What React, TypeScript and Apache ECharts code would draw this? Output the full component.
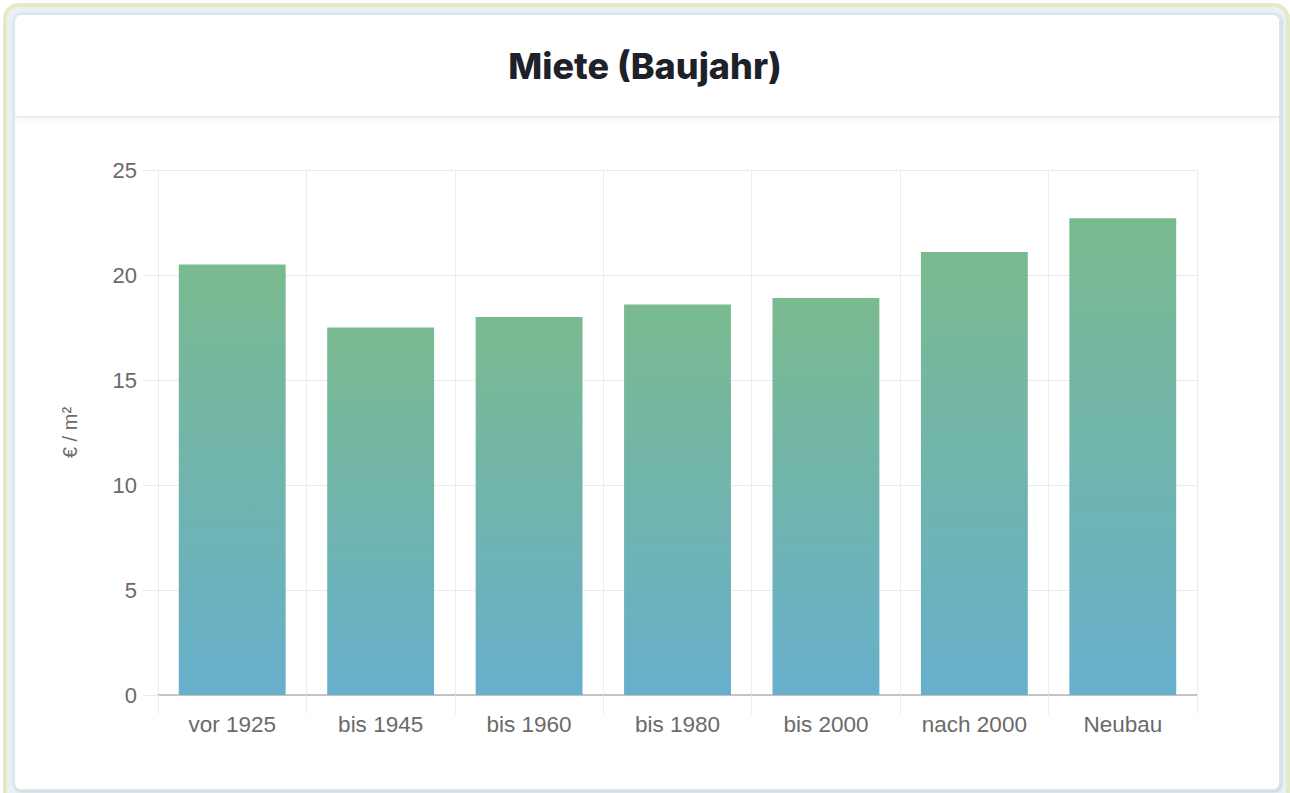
import React, { useEffect, useRef } from "react";
import * as echarts from "echarts";

const chartTitle = "Miete (Baujahr)";
const yAxisName = "€ / m²";
const categories = ["vor 1925", "bis 1945", "bis 1960", "bis 1980", "bis 2000", "nach 2000", "Neubau"];
const rentValues = [20.5, 17.5, 18.0, 18.6, 18.9, 21.1, 22.7];
const yMin = 0;
const yMax = 25;
const yStep = 5;

export default function App() {
  const ref = useRef<HTMLDivElement>(null);

  useEffect(() => {
    if (!ref.current) return;
    const chart = echarts.init(ref.current, null, { renderer: "svg" });
    const labelColor = "#6a6a6a";
    const gridColor = "#ebebeb";
    const n = categories.length;
    chart.setOption({
      animation: false,
      backgroundColor: "transparent",
      title: {
        text: chartTitle,
        left: "center",
        top: 43,
        textStyle: {
          fontFamily: "Inter, 'Open Sans', sans-serif",
          fontWeight: 800,
          fontSize: 36,
          color: "#1d222a",
        },
      },
      grid: { left: 158, right: 93, top: 170, bottom: 98, containLabel: false },
      xAxis: {
        type: "category",
        data: categories,
        boundaryGap: true,
        axisLine: { show: true, lineStyle: { color: "#b5b5b5", width: 1.5 } },
        axisTick: { show: true, length: 19, interval: 0, lineStyle: { color: gridColor } },
        splitLine: {
          show: true,
          interval: (i: number) => i < n,
          lineStyle: { color: gridColor },
        },
        axisLabel: {
          color: labelColor,
          fontSize: 22.5,
          fontFamily: "'Liberation Sans', Arial, sans-serif",
          margin: 18,
        },
      },
      yAxis: {
        type: "value",
        min: yMin,
        max: yMax,
        interval: yStep,
        name: yAxisName,
        nameLocation: "middle",
        nameGap: 78,
        nameTextStyle: {
          color: labelColor,
          fontSize: 20,
          fontFamily: "'Liberation Sans', Arial, sans-serif",
        },
        axisLine: { show: false },
        axisTick: { show: true, length: 15, lineStyle: { color: gridColor } },
        splitLine: { show: true, lineStyle: { color: gridColor } },
        axisLabel: {
          color: labelColor,
          fontSize: 22,
          fontFamily: "'Liberation Sans', Arial, sans-serif",
          margin: 21,
        },
      },
      series: [
        {
          type: "bar",
          data: rentValues,
          barCategoryGap: "28%",
          itemStyle: {
            color: new echarts.graphic.LinearGradient(0, 0, 0, 1, [
              { offset: 0, color: "#7aba8f" },
              { offset: 1, color: "#67afcc" },
            ]),
          },
        },
      ],
    });
    return () => chart.dispose();
  }, []);

  return (
    <div style={{ position: "fixed", left: 0, top: 0, width: 1290, height: 793, background: "#ffffff", overflow: "hidden" }}>
      <div
        style={{
          position: "absolute",
          left: 3,
          top: 3,
          width: 1279,
          height: 800,
          border: "4px solid #e3eac6",
          borderRadius: 16,
          background: "#eaf1f5",
        }}
      />
      <div
        style={{
          position: "absolute",
          left: 13,
          top: 13,
          width: 1264,
          height: 774,
          border: "2px solid #dde6ec",
          borderRadius: 8,
          background: "#ffffff",
          boxShadow: "1px 1px 3px rgba(120,140,160,0.35)",
        }}
      />
      <div
        style={{
          position: "absolute",
          left: 15,
          top: 116,
          width: 1264,
          height: 2,
          background: "#ececec",
          boxShadow: "0 2px 4px rgba(0,0,0,0.06)",
        }}
      />
      <div ref={ref} style={{ position: "absolute", left: 0, top: 0, width: 1290, height: 793 }} />
    </div>
  );
}
